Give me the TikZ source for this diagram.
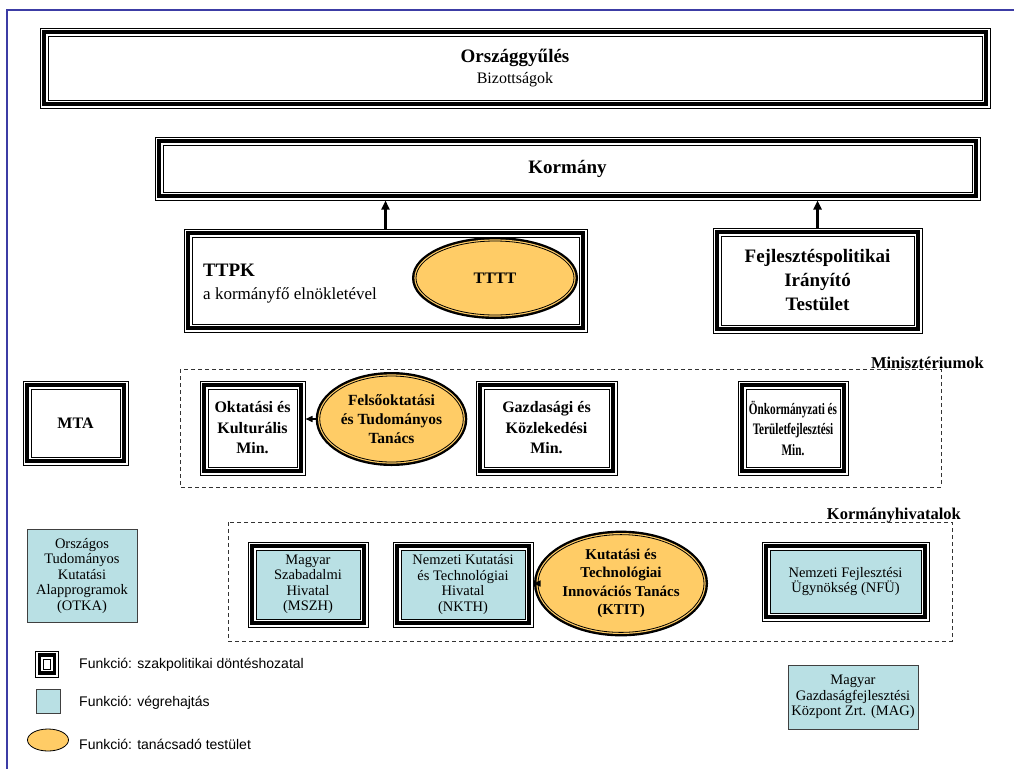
\documentclass[tikz,border=0pt]{standalone}
\usepackage{fontspec}
\setmainfont{Liberation Serif}
\newfontfamily\legendfont{Liberation Sans}
\newfontfamily\narrowserif[FakeStretch=0.7]{Liberation Serif}
\usetikzlibrary{arrows.meta,shapes.geometric}

\definecolor{advicefill}{RGB}{255,204,102}
\definecolor{execfill}{RGB}{185,224,228}
\definecolor{pageline}{RGB}{60,60,165}

\begin{document}
\begin{tikzpicture}[
  x=1pt, y=-1pt,
  policy/.style={
    rectangle, draw, line width=1pt, fill=white,
    inner sep=0pt, outer sep=8.5pt, align=center,
    preaction={draw, line width=17pt},
    preaction={draw=white, line width=15pt},
    preaction={draw, line width=11.4pt},
    preaction={draw=white, line width=4.6pt}
  },
  ministry/.style={policy, font=\fontsize{16}{20.5}\selectfont\bfseries},
  office/.style={policy, fill=execfill, font=\fontsize{14.5}{15.5}\selectfont},
  advice/.style={
    ellipse, draw, line width=0.8pt, fill=advicefill,
    inner sep=0pt, outer sep=4pt, align=center,
    font=\fontsize{16}{19.5}\selectfont\bfseries,
    preaction={draw, line width=8pt},
    preaction={draw=advicefill, line width=3.2pt}
  },
  execbox/.style={
    rectangle, draw=black!75, line width=0.8pt, fill=execfill,
    inner sep=0pt, align=center,
    font=\fontsize{14.5}{15.5}\selectfont
  },
  group/.style={draw=black!80, line width=0.8pt, dash pattern=on 4pt off 3pt},
  grouplabel/.style={inner sep=0pt, font=\fontsize{16.5}{18}\selectfont\bfseries},
  upward/.style={-{Triangle[length=9pt,width=8pt]}, line width=2.5pt},
  toward/.style={-{Triangle[length=7pt,width=6pt]}, line width=1.5pt},
  legendtext/.style={anchor=west, inner sep=0pt, font=\legendfont\fontsize{14}{16}\selectfont}
]
  \useasboundingbox (0,0) rectangle (1014,769);
  \draw[pageline, line width=1.5pt] (1014,10) -- (7,10) -- (7,769);

  % top level
  \node[policy, minimum width=934pt, minimum height=64pt, font=\fontsize{16}{21}\selectfont]
    (parliament) at (515,68) {{\fontsize{19}{21}\selectfont\bfseries Országgyűlés}\\Bizottságok};
  \node[policy, minimum width=809pt, minimum height=47pt, font=\fontsize{19}{22}\selectfont\bfseries]
    (government) at (567.5,168.5) {Kormány};

  % councils under the government
  \node[policy, minimum width=387pt, minimum height=87pt] (ttpk) at (385.5,280.5) {};
  \node[anchor=west, align=left, inner sep=0pt, font=\fontsize{17}{23}\selectfont]
    (ttpklabel) at (203,284) {{\fontsize{19}{23}\selectfont\bfseries TTPK}\\a kormányfő elnökletével};
  \node[advice, minimum width=158pt, minimum height=74pt] (tttt) at (495,278) {TTTT};
  \node[policy, minimum width=193pt, minimum height=89pt, font=\fontsize{19}{24}\selectfont\bfseries]
    (fit) at (817.5,280.5) {Fejlesztéspolitikai\\Irányító\\Testület};

  \draw[upward] (ttpk.north) -- (ttpk.north |- government.south);
  \draw[upward] (fit.north) -- (fit.north |- government.south);

  % ministries
  \draw[group] (180,369) rectangle (941,487);
  \node[grouplabel, anchor=base east] (ministrieslabel) at (984,368) {Minisztériumok};
  \node[ministry, minimum width=89pt, minimum height=68pt] (mta) at (75.5,423) {MTA};
  \node[ministry, minimum width=89pt, minimum height=78pt] (education) at (252.5,428) {Oktatási és\\Kulturális\\Min.};
  \node[advice, minimum width=141pt, minimum height=86pt, font=\fontsize{15.5}{19}\selectfont\bfseries]
    (higheredu) at (391.5,419) {Felsőoktatási\\és Tudományos\\Tanács};
  \node[ministry, minimum width=125pt, minimum height=78pt] (economy) at (546.5,428) {Gazdasági és\\Közlekedési\\Min.};
  \node[ministry, minimum width=94pt, minimum height=78pt, font=\narrowserif\fontsize{16}{20.5}\selectfont\bfseries]
    (localgov) at (793,428) {Önkormányzati és\\Területfejlesztési\\Min.};

  \draw[toward] (higheredu.west) -- (higheredu.west -| education.east);

  % government offices
  \draw[group] (228,522) rectangle (952,641);
  \node[grouplabel, anchor=base east] (officeslabel) at (961,519) {Kormányhivatalok};
  \node[execbox, minimum width=110pt, minimum height=93pt] (otka) at (82,575.5) {Országos\\Tudományos\\Kutatási\\Alapprogramok\\(OTKA)};
  \node[office, minimum width=104pt, minimum height=69pt] (mszh) at (308,584.5) {Magyar\\Szabadalmi\\Hivatal\\(MSZH)};
  \node[office, minimum width=124pt, minimum height=69pt] (nkth) at (463,584.5) {Nemzeti Kutatási\\és Technológiai\\Hivatal\\(NKTH)};
  \node[advice, minimum width=140pt, minimum height=89pt, font=\fontsize{15}{18.5}\selectfont\bfseries]
    (ktit) at (621,583.5) {Kutatási és\\Technológiai\\Innovációs Tanács\\(KTIT)};
  \node[office, minimum width=151pt, minimum height=63pt] (nfu) at (845.5,581.5) {Nemzeti Fejlesztési\\Ügynökség (NFÜ)};

  \draw[toward] (ktit.west) -- (ktit.west -| nkth.east);

  \node[execbox, minimum width=130pt, minimum height=64pt] (mag) at (853,697) {Magyar\\Gazdaságfejlesztési\\Központ Zrt. (MAG)};

  % legend
  \node[policy, minimum width=7pt, minimum height=10pt] (keypolicy) at (47,664) {};
  \node[legendtext] (keypolicytext) at (79,665) {Funkció: szakpolitikai döntéshozatal};
  \node[execbox, minimum width=24pt, minimum height=24pt] (keyexec) at (48,701) {};
  \node[legendtext] (keyexectext) at (79,703) {Funkció: végrehajtás};
  \node[ellipse, draw, line width=0.8pt, fill=advicefill, inner sep=0pt,
    minimum width=41pt, minimum height=22pt] (keyadvice) at (48,740) {};
  \node[legendtext] (keyadvicetext) at (79,744) {Funkció: tanácsadó testület};
\end{tikzpicture}
\end{document}
